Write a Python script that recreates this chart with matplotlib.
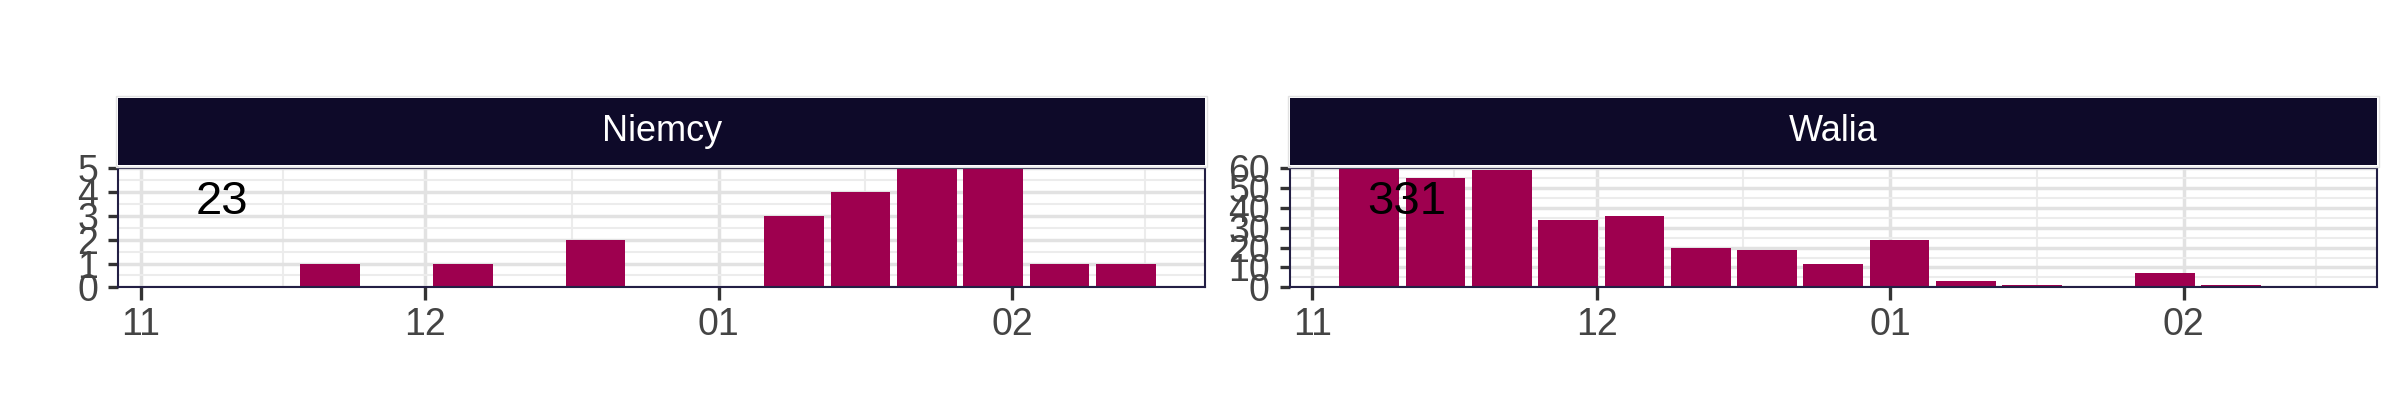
import matplotlib
matplotlib.use("Agg")
import matplotlib.pyplot as plt
import matplotlib.dates as mdates
from matplotlib.ticker import FixedLocator
from matplotlib.patches import Rectangle
import pandas as pd

plt.rcParams['font.family'] = ['Liberation Sans', 'DejaVu Sans']

# ---- data -------------------------------------------------------------
panel_names = ["Niemcy", "Walia"]

niemcy_weeks = ["2021-11-21", "2021-12-05", "2021-12-19", "2022-01-09",
                "2022-01-16", "2022-01-23", "2022-01-30", "2022-02-06",
                "2022-02-13"]
niemcy_counts = [1, 1, 2, 3, 4, 5, 5, 1, 1]
niemcy_yticks = [0, 1, 2, 3, 4, 5]

walia_weeks = ["2021-11-07", "2021-11-14", "2021-11-21", "2021-11-28",
               "2021-12-05", "2021-12-12", "2021-12-19", "2021-12-26",
               "2022-01-02", "2022-01-09", "2022-01-16", "2022-01-30",
               "2022-02-06"]
walia_counts = [60, 55, 59, 34, 36, 20, 19, 12, 24, 3, 1, 7, 1]
walia_yticks = [0, 10, 20, 30, 40, 50, 60]

month_ticks = ["2021-11-01", "2021-12-01", "2022-01-01", "2022-02-01"]
month_labels = ["11", "12", "01", "02"]

# ---- style ------------------------------------------------------------
BAR = "#9E004F"
STRIP = "#0E0A29"
BORDER = "#231F45"
GRID_MAJ = "#E2E2E2"
GRID_MIN = "#ECECEC"
TICK_TXT = "#444444"

W, H = 2400, 420
fig = plt.figure(figsize=(24, 4.2), dpi=100)
fig.patch.set_facecolor("white")

panel_lefts = [118.4, 1290.0]
panel_w = 1086.6
panel_top, panel_bot = 168.3, 287.3
strip_top, strip_bot = 98.3, 165.0

all_dates = pd.to_datetime(niemcy_weeks + walia_weeks)
bar_w = 0.9 * 7
lo = mdates.date2num(all_dates.min()) - bar_w / 2
hi = mdates.date2num(all_dates.max()) + bar_w / 2
pad = 0.05 * (hi - lo)
xlim = (lo - pad, hi + pad)

major_x = mdates.date2num(pd.to_datetime(month_ticks))
minor_x = [major_x[0] - 15] + [(a + b) / 2 for a, b in zip(major_x[:-1], major_x[1:])] \
          + [major_x[-1] + 14]

series = [(niemcy_weeks, niemcy_counts, niemcy_yticks),
          (walia_weeks, walia_counts, walia_yticks)]

for name, left, (weeks, counts, yt) in zip(panel_names, panel_lefts, series):
    ax = fig.add_axes([left / W, (H - panel_bot) / H, panel_w / W,
                       (panel_bot - panel_top) / H])
    x = mdates.date2num(pd.to_datetime(weeks))
    ax.bar(x, counts, width=bar_w, color=BAR, zorder=2, linewidth=0)
    ax.set_xlim(xlim)
    ax.set_ylim(0, max(counts))
    ax.set_axisbelow(True)

    ax.xaxis.set_major_locator(FixedLocator(major_x))
    ax.set_xticklabels(month_labels)
    ax.xaxis.set_minor_locator(FixedLocator(minor_x))
    ax.yaxis.set_major_locator(FixedLocator(yt))
    step = yt[1] - yt[0]
    ax.yaxis.set_minor_locator(FixedLocator([v + step / 2 for v in yt[:-1]]))
    ax.set_yticklabels([str(v) for v in yt])

    ax.grid(which="major", color=GRID_MAJ, linewidth=2.5, zorder=0)
    ax.grid(which="minor", color=GRID_MIN, linewidth=1.5, zorder=0)

    ax.tick_params(which="major", width=2.4, color="#333333",
                   labelsize=27, labelcolor=TICK_TXT)
    ax.tick_params(axis="y", pad=7, length=7.5)
    ax.tick_params(axis="x", pad=5, length=9)
    ax.tick_params(which="minor", length=0)

    for s in ax.spines.values():
        s.set_color(BORDER)
        s.set_linewidth(1.5)
        s.set_zorder(5)

    ax.text(0.071, 0.72, str(sum(counts)), transform=ax.transAxes,
            ha="left", va="center", fontsize=34, color="black", zorder=6)

    # strip
    fig.patches.append(Rectangle((left - 2, H - strip_top + 2),
                                 panel_w + 4, -(strip_bot - strip_top) - 4,
                                 transform=None, facecolor="none",
                                 edgecolor="#E2E2E2", linewidth=1.0))
    sax = fig.add_axes([left / W, (H - strip_bot) / H, panel_w / W,
                        (strip_bot - strip_top) / H])
    sax.set_facecolor(STRIP)
    sax.set_xticks([])
    sax.set_yticks([])
    for s in sax.spines.values():
        s.set_visible(False)
    sax.text(0.5, 0.5, name, transform=sax.transAxes, ha="center",
             va="center", fontsize=26, color="white")

fig.savefig("out.png", dpi=100, facecolor="white")
